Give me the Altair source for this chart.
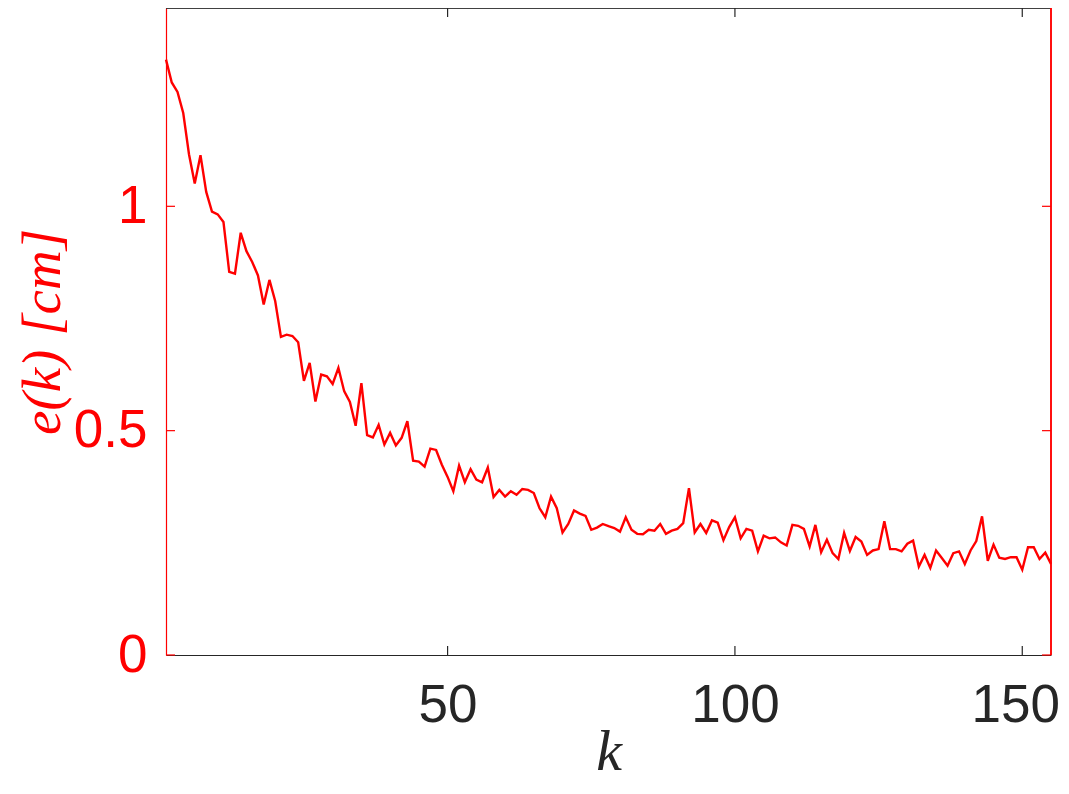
import altair as alt
import pandas as pd

# error e(k) in cm for k = 1..155
e_values = [
    1.327, 1.276, 1.255, 1.208, 1.116, 1.051, 1.114, 1.032, 0.988, 0.982,
    0.965, 0.854, 0.850, 0.941, 0.900, 0.876, 0.846, 0.781, 0.836, 0.789,
    0.709, 0.714, 0.711, 0.697, 0.611, 0.651, 0.565, 0.625, 0.621, 0.604,
    0.640, 0.588, 0.564, 0.511, 0.606, 0.490, 0.485, 0.513, 0.469, 0.495,
    0.467, 0.484, 0.521, 0.433, 0.431, 0.420, 0.460, 0.457, 0.424, 0.397,
    0.365, 0.422, 0.385, 0.414, 0.391, 0.385, 0.418, 0.352, 0.368, 0.353,
    0.365, 0.357, 0.370, 0.368, 0.361, 0.327, 0.307, 0.353, 0.327, 0.273,
    0.292, 0.322, 0.315, 0.310, 0.279, 0.284, 0.292, 0.287, 0.283, 0.275,
    0.307, 0.279, 0.270, 0.269, 0.279, 0.277, 0.292, 0.270, 0.277, 0.281,
    0.294, 0.372, 0.273, 0.292, 0.272, 0.300, 0.295, 0.256, 0.285, 0.307,
    0.260, 0.281, 0.277, 0.231, 0.266, 0.260, 0.262, 0.251, 0.244, 0.290,
    0.288, 0.281, 0.242, 0.290, 0.229, 0.257, 0.227, 0.214, 0.272, 0.232,
    0.263, 0.253, 0.223, 0.233, 0.236, 0.298, 0.236, 0.236, 0.231, 0.248,
    0.255, 0.197, 0.223, 0.194, 0.233, 0.216, 0.199, 0.227, 0.231, 0.203,
    0.233, 0.254, 0.309, 0.210, 0.246, 0.217, 0.214, 0.218, 0.218, 0.190,
    0.240, 0.240, 0.214, 0.228, 0.203,
]
k_values = list(range(1, len(e_values) + 1))

x_ticks = [50, 100, 150]
y_ticks = [0, 0.5, 1]

W, H = 885, 647
RED = "#FF0000"
DARK = "#262626"
TICK_LEN = 9

df = pd.DataFrame({"k": k_values, "e": e_values})
xt = pd.DataFrame({"k": x_ticks})
yt = pd.DataFrame({"e": y_ticks})

xscale = alt.Scale(domain=[1, 155], nice=False, zero=False)
yscale = alt.Scale(domain=[0, 1.442], nice=False, zero=False)

x_axis = alt.Axis(
    values=x_ticks,
    ticks=False,
    tickSize=0,
    grid=False,
    domainColor=DARK,
    domainWidth=1.2,
    labelColor=DARK,
    labelFont="Liberation Sans",
    labelFontSize=53,
    labelPadding=24,
    labelFlush=False,
    labelOffset={"condition": {"test": "datum.value == 150", "value": -7}, "value": 0},
    title="k",
    titleFont="Liberation Serif",
    titleFontStyle="italic",
    titleFontWeight="normal",
    titleFontSize=58,
    titleColor=DARK,
    titleX=W / 2,
    titleY=114,
    titleAlign="center",
    titleBaseline="alphabetic",
)
y_axis = alt.Axis(
    values=y_ticks,
    format="~g",
    ticks=False,
    tickSize=0,
    grid=False,
    domainColor=RED,
    domainWidth=1.2,
    labelColor=RED,
    labelFont="Liberation Sans",
    labelFontSize=53,
    labelPadding=19,
    labelFlush=False,
    title="e(k)  [cm]",
    titleFont="Liberation Serif",
    titleFontStyle="italic",
    titleFontWeight="normal",
    titleFontSize=55,
    titleColor=RED,
    titleAngle=270,
    titleX=-107,
    titleY=H / 2,
    titleAlign="center",
    titleBaseline="alphabetic",
)

X = alt.X("k:Q", scale=xscale, axis=x_axis)
Y = alt.Y("e:Q", scale=yscale, axis=y_axis)

line = alt.Chart(df).mark_line(color=RED, strokeWidth=2.4).encode(x=X, y=Y)

# inward ticks (MATLAB style)
xtick_bottom = alt.Chart(xt).mark_rule(color=DARK, strokeWidth=1.2).encode(
    x=X, y=alt.value(H), y2=alt.value(H - TICK_LEN)
)
xtick_top = alt.Chart(xt).mark_rule(color=DARK, strokeWidth=1.2).encode(
    x=X, y=alt.value(0), y2=alt.value(TICK_LEN)
)
ytick_left = alt.Chart(yt).mark_rule(color=RED, strokeWidth=1.2).encode(
    y=Y, x=alt.value(0), x2=alt.value(TICK_LEN)
)
ytick_right = alt.Chart(yt).mark_rule(color=RED, strokeWidth=1.2).encode(
    y=Y, x=alt.value(W - TICK_LEN), x2=alt.value(W)
)

# box edges: top (dark) and right (red)
frame_top = alt.Chart(xt).mark_rule(color=DARK, strokeWidth=1.2).encode(
    x=alt.value(0), x2=alt.value(W), y=alt.value(0)
)
frame_right = alt.Chart(xt).mark_rule(color=RED, strokeWidth=1.2).encode(
    x=alt.value(W), y=alt.value(0), y2=alt.value(H)
)

chart = (
    alt.layer(
        line, xtick_bottom, xtick_top, ytick_left, ytick_right, frame_top, frame_right
    )
    .properties(
        width=W,
        height=H,
        autosize=alt.AutoSizeParams(type="none"),
        padding={"left": 158, "top": 0, "right": 10, "bottom": 127},
        background="white",
    )
    .configure_view(stroke=None)
)

chart.save("out.html", embed_options={"renderer": "svg", "actions": False})
